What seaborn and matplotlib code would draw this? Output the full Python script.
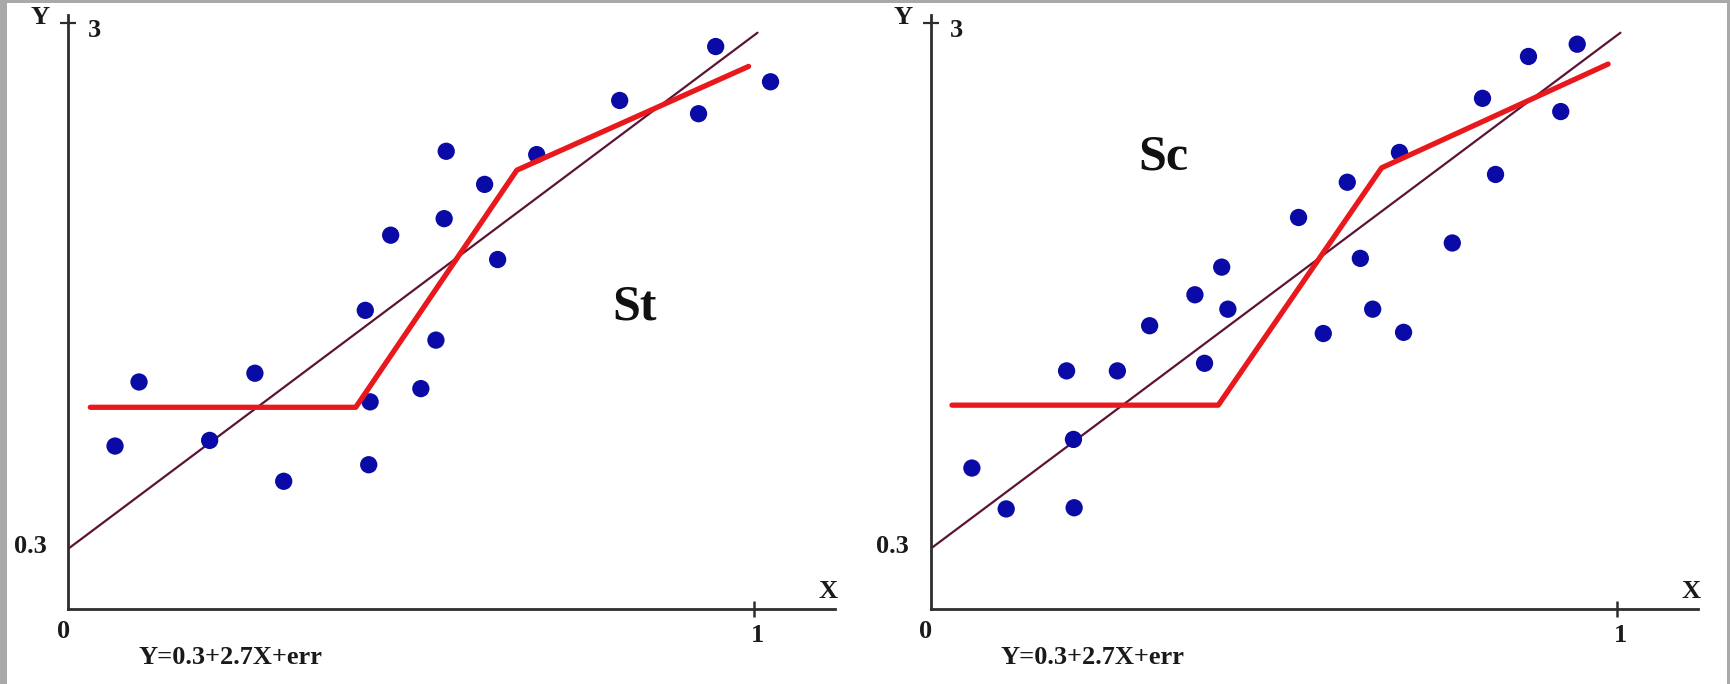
import matplotlib
matplotlib.use("Agg")
import matplotlib.pyplot as plt
import seaborn as sns
from matplotlib.patches import Rectangle

# ---------------- data ----------------
st_x = [0.068, 0.103, 0.206, 0.272, 0.314, 0.433, 0.440, 0.438, 0.470, 0.514,
        0.536, 0.548, 0.551, 0.607, 0.626, 0.683, 0.804, 0.919, 0.944, 1.024]
st_y = [0.827, 1.156, 0.856, 1.201, 0.646, 1.524, 1.054, 0.731, 1.910, 1.122,
        1.371, 1.995, 2.341, 2.171, 1.785, 2.324, 2.602, 2.534, 2.879, 2.698]

sc_x = [0.060, 0.110, 0.198, 0.208, 0.209, 0.272, 0.319, 0.385, 0.399, 0.424,
        0.433, 0.536, 0.572, 0.607, 0.626, 0.644, 0.683, 0.689, 0.760, 0.804,
        0.823, 0.871, 0.918, 0.942]
sc_y = [0.714, 0.504, 1.213, 0.861, 0.510, 1.213, 1.445, 1.604, 1.252, 1.746,
        1.530, 2.001, 1.405, 2.182, 1.791, 1.530, 2.335, 1.411, 1.870, 2.613,
        2.222, 2.828, 2.545, 2.891]

# piecewise (segmented) fits
st_seg_x = [0.032, 0.419, 0.654, 0.992]
st_seg_y = [1.026, 1.026, 2.244, 2.777]
sc_seg_x = [0.031, 0.419, 0.657, 0.987]
sc_seg_y = [1.037, 1.037, 2.256, 2.789]

# straight model line  Y = 0.3 + 2.7X
lin_x = [0.0, 1.005]
lin_y = [0.3, 2.95]

panel_names = ["St", "Sc"]
name_pos = [(0.826, 1.541), (0.339, 2.307)]
equation = "Y=0.3+2.7X+err"
x_tick_vals = [0, 1]
x_tick_labels = ["0", "1"]
y_tick_vals = [0.3, 3]
y_tick_labels = ["0.3", "3"]
axis_names = ["X", "Y"]

# ---------------- style ----------------
sns.set_style("white")
plt.rcParams["font.family"] = ["Liberation Serif", "DejaVu Serif"]
plt.rcParams["font.weight"] = "bold"

W, H = 1731, 684
fig = plt.figure(figsize=(W / 100, H / 100), dpi=100)
fig.patch.set_facecolor("white")

# grey border strips of the original screenshot
for (x0, y0, w, h) in [(0, 0, 7, H), (0, H - 3, W, 3), (W - 4, 0, 4, H)]:
    fig.patches.append(Rectangle((x0 / W, y0 / H), w / W, h / H,
                                 transform=fig.transFigure,
                                 facecolor="#a9a9a9", edgecolor="none", zorder=0))

XMAX, YMIN, YMAX = 1.118, -0.01, 3.041
axis_col = "#2e2e2e"
lab_fs = 19

panels = [
    dict(left=68.4, right=835.0, px=st_x, py=st_y, sx=st_seg_x, sy=st_seg_y),
    dict(left=930.7, right=1698.0, px=sc_x, py=sc_y, sx=sc_seg_x, sy=sc_seg_y),
]

for i, p in enumerate(panels):
    ax = fig.add_axes([p["left"] / W, (H - 609) / H,
                       (p["right"] - p["left"]) / W, (609 - 15) / H])
    ax.set_facecolor("none")

    sns.lineplot(x=lin_x, y=lin_y, ax=ax, color="#5c1435", linewidth=1.6,
                 sort=False, estimator=None, zorder=2)
    sns.scatterplot(x=p["px"], y=p["py"], ax=ax, color="#0a0aa6", s=155,
                    linewidth=0, edgecolor="none", zorder=3, clip_on=False)
    sns.lineplot(x=p["sx"], y=p["sy"], ax=ax, color="#e8181c", linewidth=3.8,
                 sort=False, estimator=None, zorder=4)

    ax.set_xlim(0, XMAX)
    ax.set_ylim(YMIN, YMAX)
    for s in ["top", "right"]:
        ax.spines[s].set_visible(False)
    for s in ["left", "bottom"]:
        ax.spines[s].set_color(axis_col)
        ax.spines[s].set_linewidth(2.0)

    ax.set_xticks([x_tick_vals[1]])
    ax.set_yticks([y_tick_vals[1]])
    ax.tick_params(axis="x", which="major", bottom=True, direction="inout",
                   length=12, width=1.8, color=axis_col, labelbottom=False)
    ax.tick_params(axis="y", which="major", left=True, direction="inout",
                   length=11, width=1.6, color=axis_col, labelleft=False)
    ax.set_xlabel("")
    ax.set_ylabel("")

    kw = dict(xycoords="data", textcoords="offset pixels",
              fontsize=lab_fs, fontweight="bold", color="#1a1a1a")
    # tick labels
    ax.annotate(x_tick_labels[0], (x_tick_vals[0], YMIN), xytext=(-5, -22),
                ha="center", va="center", annotation_clip=False, **kw)
    ax.annotate(x_tick_labels[1], (x_tick_vals[1], YMIN), xytext=(3, -26),
                ha="center", va="center", annotation_clip=False, **kw)
    ax.annotate(y_tick_labels[0], (0, y_tick_vals[0]), xytext=(-22, 2),
                ha="right", va="center", annotation_clip=False, **kw)
    ax.annotate(y_tick_labels[1], (0, y_tick_vals[1]), xytext=(19, -8),
                ha="left", va="center", annotation_clip=False, **kw)
    # axis names
    ax.annotate(axis_names[0], (XMAX, YMIN), xytext=(-7, 18),
                ha="center", va="center", annotation_clip=False, **kw)
    ax.annotate(axis_names[1], (0, YMAX), xytext=(-28, -2),
                ha="center", va="center", annotation_clip=False, **kw)
    # equation
    ax.annotate(equation, (0, YMIN), xytext=(70, -48), ha="left", va="center",
                annotation_clip=False, xycoords="data", textcoords="offset pixels",
                fontsize=19, fontweight="bold", color="#1a1a1a")
    # panel name
    ax.text(name_pos[i][0], name_pos[i][1], panel_names[i], fontsize=36,
            fontweight="bold", ha="center", va="center", color="#111111")

fig.savefig("out.png", dpi=100, facecolor="white")
